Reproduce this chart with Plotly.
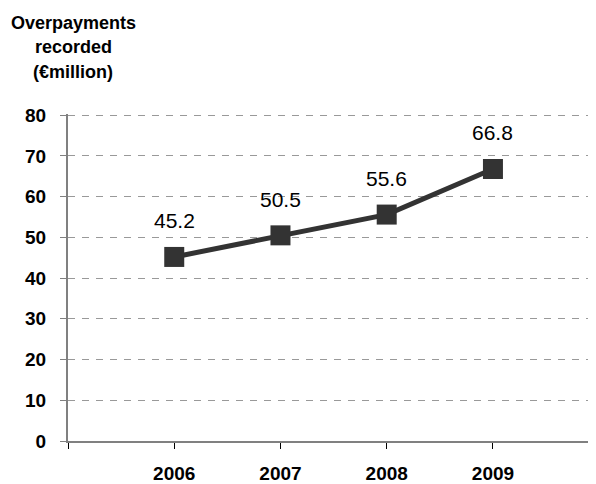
import plotly.graph_objects as go

years = ["2006", "2007", "2008", "2009"]
overpayments = [45.2, 50.5, 55.6, 66.8]
y_ticks = [0, 10, 20, 30, 40, 50, 60, 70, 80]
title_lines = ["Overpayments", "recorded", "(€million)"]

FONT = "Liberation Sans, Arial, sans-serif"
xs = list(range(len(years)))

# page body has an 8px default margin; compensate so the plot lands where the reference has it
OFF = 8
PLOT_TOP, PLOT_BOTTOM, PLOT_LEFT = 114, 443, 68
PLOT_H = PLOT_BOTTOM - PLOT_TOP

fig = go.Figure()
fig.add_trace(go.Scatter(
    x=xs, y=overpayments, mode="lines+markers",
    line=dict(color="#333333", width=5),
    marker=dict(symbol="square", size=20, color="#333333"),
    hoverinfo="skip", showlegend=False,
))

for x, v in zip(xs, overpayments):
    fig.add_annotation(x=x, y=v, text=f"{v:.1f}", showarrow=False,
                       yshift=36, font=dict(family=FONT, size=21, color="#000000"))

title_y_px = [22, 47, 72]
for t, ypx in zip(title_lines, title_y_px):
    fig.add_annotation(xref="paper", yref="paper", x=(73 - PLOT_LEFT) / 528,
                       y=1 + (PLOT_TOP - ypx) / PLOT_H,
                       xanchor="center", yanchor="middle",
                       text=f"<b>{t}</b>", showarrow=False,
                       font=dict(family=FONT, size=18, color="#000000"))

fig.update_layout(
    width=596 - OFF, height=484 - OFF,
    margin=dict(l=PLOT_LEFT - OFF, r=0, t=PLOT_TOP - OFF, b=484 - PLOT_BOTTOM),
    paper_bgcolor="white", plot_bgcolor="white",
    font=dict(family=FONT),
    xaxis=dict(
        range=[-1, 3.97], tickmode="array",
        tickvals=[-1] + xs, ticktext=[""] + years,
        showgrid=False, zeroline=False,
        showline=True, linecolor="#808080", linewidth=2,
        ticks="outside", ticklen=6, tickcolor="#000000", tickwidth=1,
        tickfont=dict(family=FONT, size=19, color="#000000", weight="bold"),
        ticklabelstandoff=8,
    ),
    yaxis=dict(
        range=[0, 80.3], tickmode="array", tickvals=y_ticks,
        showgrid=True, gridcolor="#999999", griddash="7px,7px", gridwidth=1,
        zeroline=False,
        showline=True, linecolor="#808080", linewidth=2,
        ticks="outside", ticklen=6, tickcolor="#808080", tickwidth=1,
        tickfont=dict(family=FONT, size=19, color="#000000", weight="bold"),
        ticklabelstandoff=10,
    ),
)

fig.write_html("out.html")
